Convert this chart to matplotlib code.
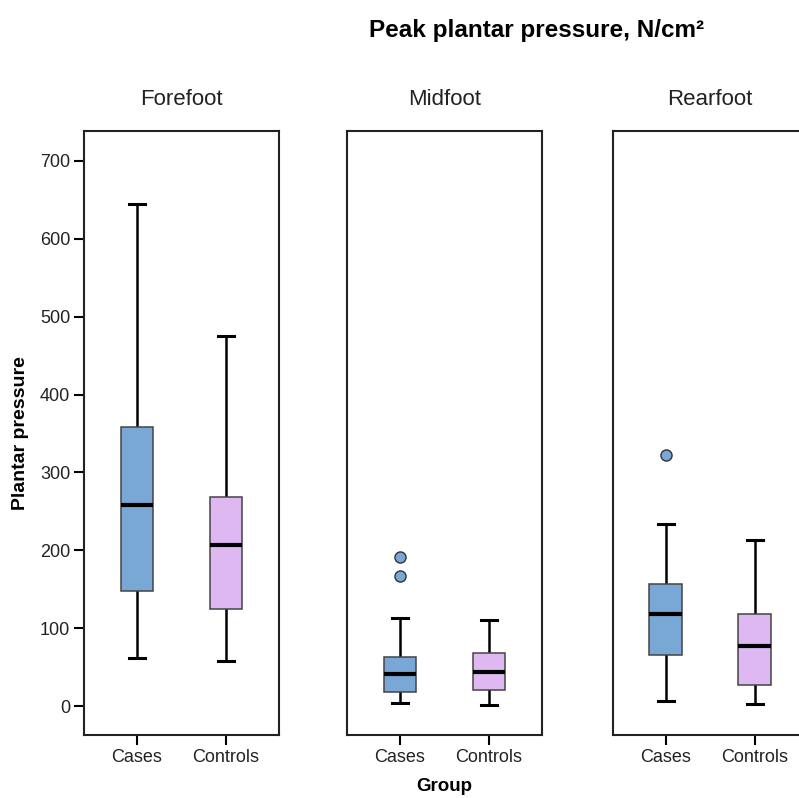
import matplotlib.pyplot as plt
import numpy as np

plt.rcParams['font.family'] = ['Liberation Sans', 'DejaVu Sans']

regions = ['Forefoot', 'Midfoot', 'Rearfoot']
groups = ['Cases', 'Controls']

# five-number summaries: [whislo, q1, median, q3, whishi]
forefoot_cases = [62, 148, 258, 358, 645]
forefoot_controls = [58, 124, 207, 268, 475]
midfoot_cases = [4, 18, 41, 63, 113]
midfoot_controls = [1, 21, 44, 68, 110]
rearfoot_cases = [6, 65, 118, 157, 234]
rearfoot_controls = [2, 27, 77, 118, 213]

# outliers
midfoot_cases_out = [191, 167]
rearfoot_cases_out = [323]

summaries = [
    [(forefoot_cases, []), (forefoot_controls, [])],
    [(midfoot_cases, midfoot_cases_out), (midfoot_controls, [])],
    [(rearfoot_cases, rearfoot_cases_out), (rearfoot_controls, [])],
]

colors = ['#79A7D6', '#DEB8F1']
yticks = [0, 100, 200, 300, 400, 500, 600, 700]

fig = plt.figure(figsize=(7.99, 7.98), dpi=100)
lefts = [84 / 799, 347 / 799, 612.7 / 799]
bottom = 1 - 735 / 798
height = (735 - 131) / 798
width = 195 / 799

for i, region in enumerate(regions):
    ax = fig.add_axes([lefts[i], bottom, width, height])
    stats = []
    for five, out in summaries[i]:
        lo, q1, med, q3, hi = five
        stats.append(dict(whislo=lo, q1=q1, med=med, q3=q3, whishi=hi, fliers=out))
    bp = ax.bxp(stats, positions=[1, 2], widths=0.37, patch_artist=True,
                showfliers=True,
                boxprops=dict(edgecolor='#444444', linewidth=1.1),
                medianprops=dict(color='black', linewidth=3),
                whiskerprops=dict(color='black', linewidth=1.8),
                capprops=dict(color='black', linewidth=2.2),
                capwidths=0.18,
                flierprops=dict(marker='o', markerfacecolor=colors[0],
                                markeredgecolor='#333333', markersize=8,
                                markeredgewidth=1.0))
    for patch, c in zip(bp['boxes'], colors):
        patch.set_facecolor(c)
        patch.set_zorder(3)
    for med in bp['medians']:
        med.set_zorder(4)

    ax.set_xlim(1.5 - 1.0955, 1.5 + 1.0955)
    ax.set_ylim(-37.2, 738.5)
    ax.set_xticks([1, 2])
    ax.set_xticklabels(groups, fontsize=13, color='#222222')
    ax.tick_params(axis='x', length=7, width=1.5, direction='out', pad=3)
    for s in ax.spines.values():
        s.set_linewidth(1.5)
        s.set_color('#222222')
    if i == 0:
        ax.set_yticks(yticks)
        ax.set_yticklabels([str(t) for t in yticks], fontsize=13, color='#222222')
        ax.tick_params(axis='y', length=7, width=1.5, direction='out', pad=3)
        ax.set_ylabel('Plantar pressure', fontsize=14, fontweight='bold',
                      family=['Liberation Sans Narrow', 'Liberation Sans'], labelpad=8)
    else:
        ax.set_yticks([])
    ax.set_title(region, fontsize=16, color='#222222', pad=19)
    if i == 1:
        ax.set_xlabel('Group', fontsize=13.5, fontweight='bold', labelpad=9)

fig.text(537 / 799, 1 - 30 / 798, 'Peak plantar pressure, N/cm²', fontsize=17.5,
         fontweight='bold', ha='center', va='center')

fig.savefig('out.png', dpi=100)
